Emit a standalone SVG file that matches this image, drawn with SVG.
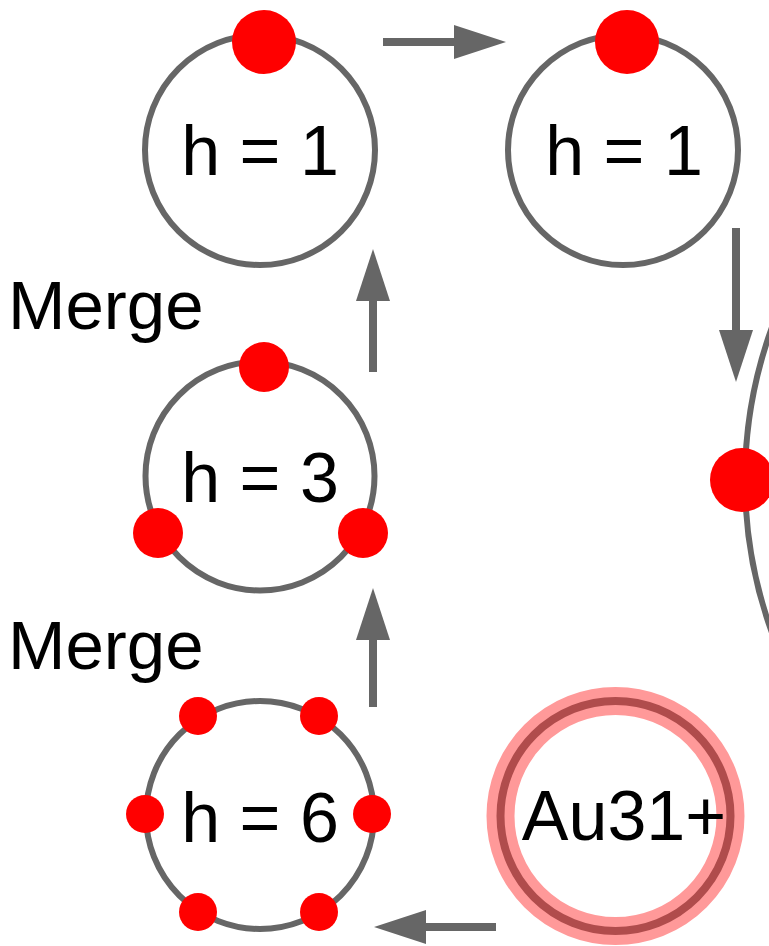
<svg xmlns="http://www.w3.org/2000/svg" width="769" height="946" viewBox="0 0 769 946">
<style>
.ring{fill:none;stroke:#666;stroke-width:6}
.dot{fill:#ff0000}
.lbl{font-family:"Liberation Sans",Arial,sans-serif;font-size:70px;fill:#000;text-anchor:middle}
.note{font-family:"Liberation Sans",Arial,sans-serif;font-size:69px;fill:#000}
.conn{stroke:#666;stroke-width:8;fill:none;marker-end:url(#ah)}
</style>
<defs>
<marker id="ah" viewBox="0 0 52 34" refX="1" refY="17" markerWidth="52" markerHeight="34" markerUnits="userSpaceOnUse" orient="auto">
<path d="M0,0 L52,17 L0,34 Z" fill="#666"/>
</marker>
</defs>
<rect width="769" height="946" fill="#fff"/>
<g id="connectors">
<line class="conn" x1="383" y1="42" x2="455" y2="42"/>
<line class="conn" x1="736" y1="228" x2="736" y2="331"/>
<line class="conn" x1="373" y1="372" x2="373" y2="300"/>
<line class="conn" x1="373" y1="707" x2="373" y2="639"/>
<line class="conn" x1="496" y1="927" x2="425" y2="927"/>
</g>
<g id="node-h1-left">
<circle class="ring" cx="260" cy="150" r="115"/>
<circle class="dot" cx="264" cy="42" r="32"/>
<text class="lbl" x="260" y="175">h = 1</text>
</g>
<g id="node-h1-right">
<circle class="ring" cx="623" cy="150" r="115"/>
<circle class="dot" cx="627" cy="42" r="32"/>
<text class="lbl" x="624" y="175">h = 1</text>
</g>
<g id="node-big">
<circle class="ring" cx="1190" cy="480" r="445"/>
<circle class="dot" cx="742" cy="480" r="32"/>
</g>
<g id="node-h3">
<circle class="ring" cx="260" cy="476" r="114.5"/>
<circle class="dot" cx="264" cy="367" r="25"/>
<circle class="dot" cx="158" cy="533" r="25"/>
<circle class="dot" cx="363" cy="533" r="25"/>
<text class="lbl" x="260" y="502">h = 3</text>
</g>
<g id="node-h6">
<circle class="ring" cx="260" cy="815" r="114"/>
<circle class="dot" cx="198" cy="716" r="19"/>
<circle class="dot" cx="319" cy="716" r="19"/>
<circle class="dot" cx="145" cy="814" r="19"/>
<circle class="dot" cx="372" cy="814" r="19"/>
<circle class="dot" cx="198" cy="912" r="19"/>
<circle class="dot" cx="319" cy="912" r="19"/>
<text class="lbl" x="260" y="842">h = 6</text>
</g>
<g id="node-au31">
<circle cx="615.5" cy="816" r="115" fill="none" stroke="#ff9999" stroke-width="28"/>
<circle cx="615.5" cy="816" r="115" fill="none" stroke="#b04c4c" stroke-width="8"/>
<text class="lbl" x="624" y="840">Au31+</text>
</g>
<g id="labels">
<text class="note" x="8" y="329">Merge</text>
<text class="note" x="8" y="669">Merge</text>
</g>
</svg>
